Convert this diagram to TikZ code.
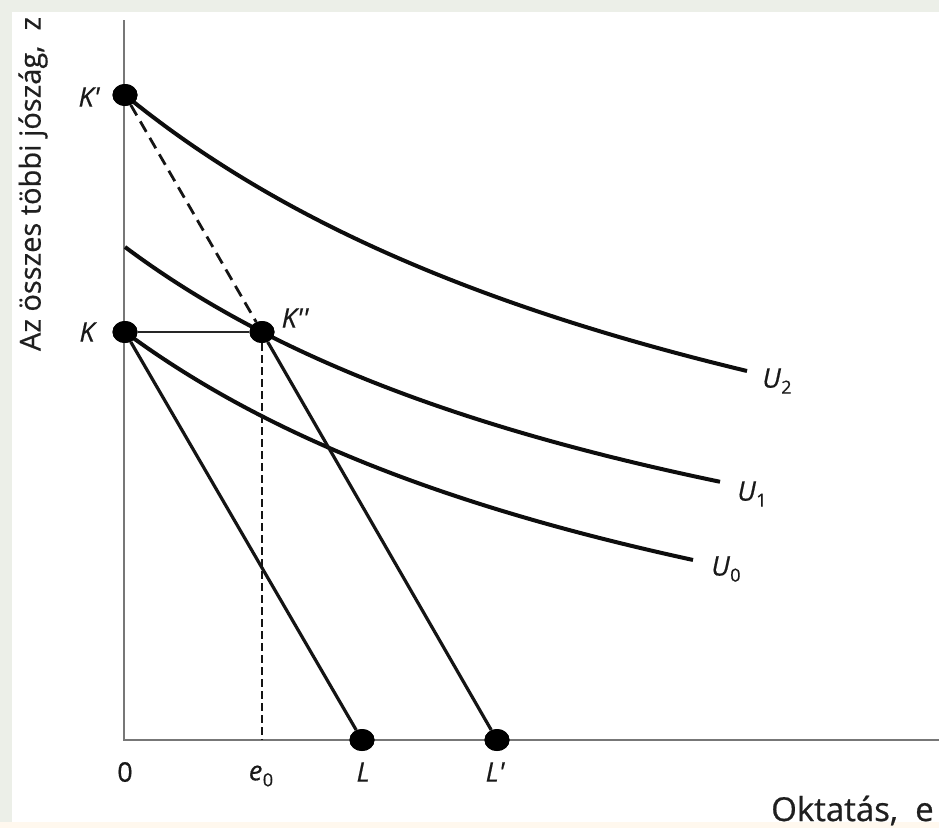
\documentclass[tikz,border=0pt]{standalone}
\usepackage{fontspec}
\setmainfont{Open Sans}
\newfontfamily\labfont{Open Sans}[FakeBold=0.6]
\usetikzlibrary{shapes.geometric}
\definecolor{edgebg}{HTML}{ECEFE8}
\definecolor{creambg}{HTML}{FFF8EE}
\definecolor{axisgray}{HTML}{777777}
\newcommand{\sub}[1]{\kern0.5pt\raisebox{-6pt}{\fontsize{18}{18}\selectfont\upshape #1}}
\begin{document}
\begin{tikzpicture}[x=1pt,y=-1pt,
  dot/.style={ellipse,fill=black,minimum width=25pt,minimum height=22pt,inner sep=0pt},
  axisline/.style={draw=axisgray,line width=2pt},
  curve/.style={line width=4pt,draw=black!95},
  budget/.style={line width=3.2pt,draw=black!92},
  helper/.style={line width=2.4pt,draw=black!85},
  dashlong/.style={line width=2.8pt,draw=black!92,dash pattern=on 12pt off 7pt},
  dashshort/.style={line width=1.7pt,draw=black!92,dash pattern=on 8pt off 4pt},
  lbl/.style={font=\labfont\fontsize{27}{30}\selectfont\itshape,inner sep=0pt,text=black!90},
  numlbl/.style={font=\labfont\fontsize{27}{30}\selectfont,inner sep=0pt,text=black!90},
  axlbl/.style={font=\labfont\fontsize{33}{36}\selectfont,inner sep=0pt,text=black!88}
]
\useasboundingbox (0,0) rectangle (939,828);
% background
\fill[edgebg] (0,0) rectangle (939,828);
\fill[white] (12,12) rectangle (939,822);
\fill[creambg] (0,822) rectangle (939,828);

% axes
\coordinate (top) at (124,20);
\coordinate (O) at (124,740);
\coordinate (right) at (939,740);
\draw[axisline] (top) -- (O) -- (right);

% points
\coordinate (e0foot) at (262,740);
\node[dot] (Kp) at (125,95) {};
\node[dot] (K) at (125,332) {};
\node[dot] (Kpp) at (262,332) {};
\node[dot] (L) at (362,740) {};
\node[dot] (Lp) at (497,740) {};

% indifference curves
\draw[curve] plot[domain=125:747,samples=90] (\x,{698.2-4448.16/((\x+612.4)/100)});
\draw[curve] plot[domain=125:720,samples=90] (\x,{743.4-3291.71/((\x+538.1)/100)});
\draw[curve] plot[domain=125:693,samples=90] (\x,{830.1-3352.51/((\x+548)/100)});

% budget lines
\draw[budget] (K) -- (L);
\draw[budget] (Kpp) -- (Lp);
\draw[helper] (K) -- (Kpp);
\draw[dashlong] (Kp) -- (Kpp);
\draw[dashshort] (Kpp) -- (e0foot);

% redraw dots on top
\node[dot] at (Kp) {};
\node[dot] at (K) {};
\node[dot] at (Kpp) {};
\node[dot] at (L) {};
\node[dot] at (Lp) {};

% labels
\node[lbl] (tKp) at (89,97) {K\textquotesingle};
\node[lbl] (tK) at (87,332) {K};
\node[lbl] (tKpp) at (295,318) {K\textquotesingle\textquotesingle};
\node[lbl] (tU2) at (777,381) {U\sub{2}};
\node[lbl] (tU1) at (752,494) {U\sub{1}};
\node[lbl] (tU0) at (726,569) {U\sub{0}};
\node[numlbl] (t0) at (125,772) {0};
\node[lbl] (te0) at (261,776) {e\sub{0}};
\node[lbl] (tL) at (363,772) {L};
\node[lbl] (tLp) at (495,772) {L\textquotesingle};
\node[axlbl,anchor=base west] (tx) at (771,821) {Oktatás,\ \ e};
\node[axlbl,rotate=90,font=\labfont\fontsize{29}{32}\selectfont] (ty) at (33,184) {Az összes többi jószág,\ \ z};
\end{tikzpicture}
\end{document}
